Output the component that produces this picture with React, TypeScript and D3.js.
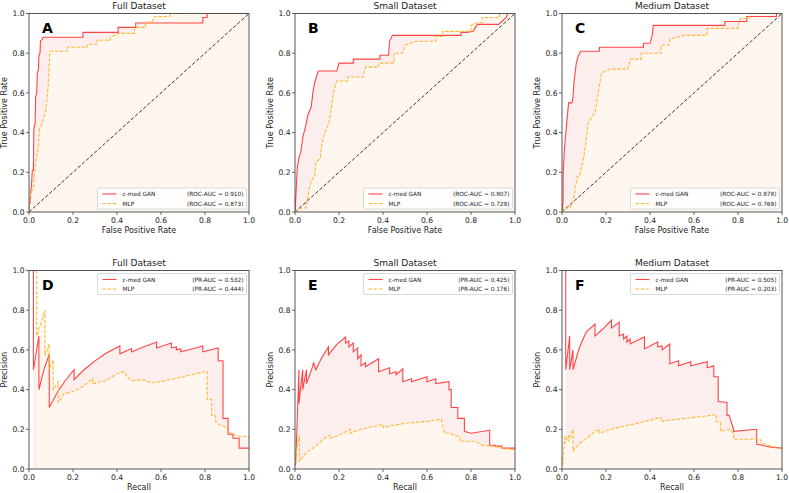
import React from "react";
import * as d3 from "d3";

type Pt = [number, number];

const titles = ["Full Dataset", "Small Dataset", "Medium Dataset"];
const rocLetters = ["A", "B", "C"];
const prLetters = ["D", "E", "F"];
const tickValues = [0, 0.2, 0.4, 0.6, 0.8, 1.0];
const seriesNames = ["c-med GAN", "MLP"];
const rocAucGan = ["0.910", "0.807", "0.878"];
const rocAucMlp = ["0.873", "0.729", "0.769"];
const prAucGan = ["0.532", "0.425", "0.505"];
const prAucMlp = ["0.444", "0.176", "0.203"];

// ROC curves (FPR, TPR)
const rocFullGan: Pt[] = [[0,0],[0,0.03],[0.005,0.05],[0.008,0.1],[0.012,0.15],[0.015,0.21],[0.02,0.21],[0.022,0.42],[0.028,0.45],[0.03,0.58],[0.035,0.6],[0.038,0.7],[0.043,0.72],[0.045,0.79],[0.05,0.8],[0.052,0.86],[0.06,0.87],[0.065,0.88],[0.245,0.88],[0.245,0.905],[0.405,0.905],[0.405,0.93],[0.485,0.93],[0.485,0.952],[0.79,0.952],[0.79,0.98],[0.81,0.98],[0.81,1],[1,1]];
const rocFullMlp: Pt[] = [[0,0],[0.003,0.05],[0.008,0.1],[0.015,0.11],[0.02,0.12],[0.025,0.2],[0.03,0.25],[0.04,0.3],[0.048,0.42],[0.06,0.45],[0.075,0.5],[0.085,0.6],[0.09,0.7],[0.095,0.81],[0.175,0.81],[0.175,0.83],[0.265,0.83],[0.265,0.845],[0.31,0.845],[0.31,0.865],[0.37,0.865],[0.37,0.88],[0.41,0.9],[0.48,0.9],[0.48,0.93],[0.53,0.93],[0.53,0.955],[0.56,0.96],[0.57,0.985],[0.64,0.985],[0.64,1],[1,1]];
const rocSmallGan: Pt[] = [[0,0],[0.005,0.1],[0.01,0.22],[0.017,0.27],[0.026,0.3],[0.036,0.38],[0.048,0.43],[0.059,0.49],[0.074,0.53],[0.081,0.6],[0.089,0.65],[0.097,0.68],[0.106,0.71],[0.19,0.71],[0.195,0.73],[0.2,0.75],[0.265,0.75],[0.265,0.77],[0.386,0.77],[0.386,0.79],[0.425,0.79],[0.43,0.86],[0.443,0.89],[0.755,0.89],[0.755,0.905],[0.78,0.905],[0.81,0.91],[0.82,0.93],[0.83,0.945],[0.926,0.945],[0.96,0.98],[0.967,1],[1,1]];
const rocSmallMlp: Pt[] = [[0,0],[0.03,0.02],[0.05,0.02],[0.055,0.05],[0.065,0.12],[0.075,0.16],[0.09,0.18],[0.095,0.25],[0.115,0.27],[0.12,0.33],[0.13,0.38],[0.14,0.41],[0.155,0.45],[0.165,0.52],[0.175,0.6],[0.19,0.66],[0.24,0.66],[0.24,0.68],[0.31,0.68],[0.32,0.73],[0.38,0.73],[0.38,0.75],[0.45,0.75],[0.45,0.8],[0.49,0.8],[0.5,0.84],[0.55,0.86],[0.64,0.86],[0.64,0.885],[0.67,0.885],[0.67,0.91],[0.8,0.91],[0.8,0.94],[0.83,0.955],[0.85,0.955],[0.85,0.98],[0.93,0.98],[0.93,1],[1,1]];
const rocMediumGan: Pt[] = [[0,0],[0.005,0.05],[0.005,0.18],[0.01,0.3],[0.015,0.37],[0.02,0.43],[0.025,0.49],[0.03,0.55],[0.045,0.55],[0.05,0.58],[0.055,0.66],[0.065,0.75],[0.075,0.79],[0.085,0.81],[0.17,0.81],[0.17,0.83],[0.37,0.83],[0.37,0.85],[0.4,0.85],[0.41,0.89],[0.415,0.94],[0.74,0.94],[0.74,0.96],[0.84,0.96],[0.84,0.985],[0.975,0.985],[0.975,1],[1,1]];
const rocMediumMlp: Pt[] = [[0,0],[0.01,0.02],[0.035,0.02],[0.05,0.05],[0.07,0.18],[0.08,0.18],[0.1,0.28],[0.12,0.45],[0.15,0.5],[0.165,0.6],[0.18,0.7],[0.22,0.72],[0.3,0.72],[0.31,0.77],[0.36,0.77],[0.36,0.8],[0.45,0.8],[0.45,0.84],[0.485,0.84],[0.49,0.87],[0.555,0.89],[0.66,0.89],[0.66,0.925],[0.8,0.925],[0.805,0.96],[0.81,0.975],[0.85,0.975],[0.855,1],[1,1]];

// PR curves (Recall, Precision)
const prFullGan: Pt[] = [[0.02,1],[0.02,0.5],[0.045,0.67],[0.045,0.4],[0.07,0.509],[0.092,0.577],[0.092,0.31],[0.13,0.388],[0.165,0.446],[0.205,0.5],[0.205,0.45],[0.25,0.5],[0.3,0.545],[0.35,0.583],[0.413,0.62],[0.413,0.58],[0.466,0.607],[0.466,0.59],[0.52,0.615],[0.58,0.64],[0.58,0.61],[0.647,0.635],[0.647,0.61],[0.67,0.615],[0.67,0.6],[0.69,0.605],[0.69,0.59],[0.74,0.605],[0.79,0.62],[0.79,0.59],[0.86,0.61],[0.86,0.545],[0.882,0.545],[0.882,0.255],[0.905,0.255],[0.905,0.175],[0.927,0.175],[0.927,0.155],[0.955,0.155],[0.955,0.105],[1,0.105]];
const prFullMlp: Pt[] = [[0.035,1],[0.035,0.67],[0.073,0.8],[0.073,0.57],[0.092,0.63],[0.092,0.5],[0.11,0.55],[0.11,0.4],[0.133,0.44],[0.133,0.335],[0.16,0.38],[0.2,0.39],[0.22,0.4],[0.25,0.42],[0.29,0.455],[0.29,0.43],[0.35,0.445],[0.4,0.48],[0.43,0.49],[0.45,0.46],[0.47,0.445],[0.52,0.45],[0.55,0.435],[0.6,0.44],[0.68,0.46],[0.72,0.47],[0.8,0.49],[0.81,0.49],[0.81,0.35],[0.83,0.35],[0.83,0.27],[0.845,0.27],[0.85,0.235],[0.87,0.22],[0.9,0.21],[0.905,0.185],[0.93,0.175],[0.95,0.165],[1,0.165],[1,0.155]];
const prSmallGan: Pt[] = [[0.003,0.02],[0.018,0.5],[0.018,0.33],[0.035,0.5],[0.035,0.4],[0.052,0.5],[0.052,0.43],[0.075,0.5],[0.085,0.535],[0.095,0.5],[0.12,0.558],[0.152,0.615],[0.152,0.575],[0.19,0.628],[0.23,0.665],[0.23,0.635],[0.245,0.645],[0.245,0.615],[0.265,0.635],[0.265,0.59],[0.285,0.61],[0.285,0.555],[0.3,0.575],[0.3,0.52],[0.32,0.535],[0.32,0.515],[0.38,0.555],[0.38,0.49],[0.43,0.51],[0.43,0.48],[0.46,0.49],[0.46,0.475],[0.49,0.505],[0.49,0.44],[0.53,0.455],[0.53,0.44],[0.6,0.465],[0.6,0.44],[0.64,0.455],[0.64,0.43],[0.7,0.44],[0.7,0.4],[0.71,0.4],[0.71,0.31],[0.74,0.31],[0.74,0.255],[0.77,0.255],[0.77,0.19],[0.8,0.18],[0.885,0.195],[0.885,0.12],[0.91,0.12],[0.91,0.115],[0.94,0.115],[0.94,0.105],[1,0.105]];
const prSmallMlp: Pt[] = [[0.002,0.03],[0.008,0.1],[0.02,0.17],[0.02,0.04],[0.05,0.08],[0.1,0.12],[0.14,0.16],[0.16,0.17],[0.16,0.155],[0.2,0.17],[0.25,0.2],[0.25,0.18],[0.3,0.2],[0.38,0.22],[0.4,0.225],[0.4,0.21],[0.45,0.22],[0.5,0.23],[0.6,0.24],[0.665,0.25],[0.68,0.18],[0.7,0.18],[0.75,0.16],[0.75,0.14],[0.82,0.14],[0.85,0.12],[0.9,0.115],[0.95,0.105],[1,0.095]];
const prMediumGan: Pt[] = [[0.017,1],[0.017,0.5],[0.035,0.67],[0.035,0.5],[0.05,0.6],[0.05,0.5],[0.08,0.615],[0.11,0.69],[0.15,0.73],[0.15,0.67],[0.19,0.71],[0.225,0.75],[0.225,0.71],[0.26,0.74],[0.26,0.67],[0.28,0.68],[0.28,0.655],[0.295,0.67],[0.295,0.64],[0.31,0.655],[0.31,0.63],[0.375,0.665],[0.375,0.605],[0.435,0.64],[0.435,0.615],[0.455,0.62],[0.455,0.6],[0.49,0.63],[0.49,0.53],[0.53,0.545],[0.53,0.52],[0.585,0.54],[0.585,0.52],[0.66,0.54],[0.66,0.51],[0.69,0.52],[0.69,0.465],[0.71,0.465],[0.71,0.34],[0.75,0.335],[0.75,0.27],[0.76,0.27],[0.78,0.2],[0.78,0.19],[0.885,0.2],[0.885,0.125],[0.91,0.12],[0.95,0.11],[1,0.105]];
const prMediumMlp: Pt[] = [[0.003,0.02],[0.013,0.17],[0.013,0.13],[0.03,0.17],[0.03,0.14],[0.05,0.2],[0.05,0.09],[0.08,0.13],[0.12,0.16],[0.15,0.19],[0.17,0.2],[0.17,0.18],[0.22,0.2],[0.26,0.21],[0.3,0.22],[0.38,0.24],[0.45,0.26],[0.45,0.24],[0.52,0.25],[0.6,0.26],[0.68,0.27],[0.7,0.275],[0.7,0.24],[0.72,0.235],[0.72,0.19],[0.76,0.2],[0.78,0.18],[0.78,0.15],[0.9,0.15],[0.91,0.13],[0.95,0.115],[1,0.1]];

const rocGan = [rocFullGan, rocSmallGan, rocMediumGan];
const rocMlp = [rocFullMlp, rocSmallMlp, rocMediumMlp];
const prGan = [prFullGan, prSmallGan, prMediumGan];
const prMlp = [prFullMlp, prSmallMlp, prMediumMlp];

const FONT = "DejaVu Sans, sans-serif";
const RED = "#ff4444";
const ORANGE = "#ffb833";
const PINK_FILL = "#fdeeee";
const CREAM_FILL = "#fff7ef";
const AXIS = "#444";
const TEXT = "#222";

const colLeft = [29, 295, 562];
const panelW = 220;
const rowTop = [13.5, 270.5];
const panelH = 198.5;

interface PanelProps {
  left: number;
  top: number;
  gan: Pt[];
  mlp: Pt[];
  kind: "roc" | "pr";
  letter: string;
  title: string;
  aucGan: string;
  aucMlp: string;
}

function Panel({ left, top, gan, mlp, kind, letter, title, aucGan, aucMlp }: PanelProps) {
  const x = d3.scaleLinear().domain([0, 1]).range([left, left + panelW]);
  const y = d3.scaleLinear().domain([0, 1]).range([top + panelH, top]);
  const line = d3.line<Pt>().x((d) => x(d[0])).y((d) => y(d[1]));
  const area = d3
    .area<Pt>()
    .x((d) => x(d[0]))
    .y0(y(0))
    .y1((d) => y(d[1]));
  const bottom = top + panelH;
  const right = left + panelW;
  const xLabel = kind === "roc" ? "False Positive Rate" : "Recall";
  const yLabel = kind === "roc" ? "True Positive Rate" : "Precision";
  const metric = kind === "roc" ? "ROC-AUC" : "PR-AUC";
  const legW = 149;
  const legH = 21;
  const legX = right - legW - 2.5;
  const legY = kind === "roc" ? bottom - legH - 3 : top + 3;
  const clipId = `clip-${letter}`;
  const lf = 5.8;
  return (
    <g>
      <defs>
        <clipPath id={clipId}>
          <rect x={left} y={top} width={panelW} height={panelH} />
        </clipPath>
      </defs>
      <g clipPath={`url(#${clipId})`}>
        <path d={area(gan) || ""} fill={PINK_FILL} />
        <path d={area(mlp) || ""} fill={CREAM_FILL} />
        {kind === "roc" && (
          <path
            d={line([[0, 0], [1, 1]] as Pt[]) || ""}
            stroke="#000"
            strokeWidth={0.8}
            strokeDasharray="3.5,2"
            fill="none"
          />
        )}
        <path d={line(gan) || ""} stroke={RED} strokeWidth={1.1} fill="none" />
        <path d={line(mlp) || ""} stroke={ORANGE} strokeWidth={1.1} strokeDasharray="3.5,1.6" fill="none" />
      </g>
      <rect x={left} y={top} width={panelW} height={panelH} fill="none" stroke={AXIS} strokeWidth={0.9} />
      {tickValues.map((t) => (
        <g key={`x${t}`}>
          <line x1={x(t)} x2={x(t)} y1={bottom} y2={bottom + 3} stroke={AXIS} strokeWidth={0.8} />
          <text x={x(t)} y={bottom + 10.5} fontSize={7.6} textAnchor="middle" fill={TEXT} fontFamily={FONT}>
            {t.toFixed(1)}
          </text>
        </g>
      ))}
      {tickValues.map((t) => (
        <g key={`y${t}`}>
          <line x1={left - 3} x2={left} y1={y(t)} y2={y(t)} stroke={AXIS} strokeWidth={0.8} />
          <text x={left - 4.5} y={y(t) + 2.7} fontSize={7.6} textAnchor="end" fill={TEXT} fontFamily={FONT}>
            {t.toFixed(1)}
          </text>
        </g>
      ))}
      <text x={(left + right) / 2} y={top - 4.5} fontSize={9} textAnchor="middle" fill={TEXT} fontFamily={FONT}>
        {title}
      </text>
      <text x={(left + right) / 2} y={bottom + 21} fontSize={8} textAnchor="middle" fill={TEXT} fontFamily={FONT}>
        {xLabel}
      </text>
      <text
        transform={`translate(${left - 22.5},${(top + bottom) / 2}) rotate(-90)`}
        fontSize={8}
        textAnchor="middle"
        fill={TEXT}
        fontFamily={FONT}
      >
        {yLabel}
      </text>
      <text x={left + 13} y={top + 19} fontSize={14} fontWeight="bold" fill="#000" fontFamily={FONT}>
        {letter}
      </text>
      <g>
        <rect x={legX} y={legY} width={legW} height={legH} rx={1.5} fill="#fff" fillOpacity={0.85} stroke="#ccc" strokeWidth={0.7} />
        <line x1={legX + 5} x2={legX + 19} y1={legY + 6} y2={legY + 6} stroke={RED} strokeWidth={1.1} />
        <line x1={legX + 5} x2={legX + 19} y1={legY + 15.5} y2={legY + 15.5} stroke={ORANGE} strokeWidth={1.1} strokeDasharray="3.5,1.6" />
        <text x={legX + 25} y={legY + 8} fontSize={lf} fill={TEXT} fontFamily={FONT}>{seriesNames[0]}</text>
        <text x={legX + 25} y={legY + 17.5} fontSize={lf} fill={TEXT} fontFamily={FONT}>{seriesNames[1]}</text>
        <text x={legX + legW - 3} y={legY + 8} fontSize={lf} textAnchor="end" fill={TEXT} fontFamily={FONT}>{`(${metric} = ${aucGan})`}</text>
        <text x={legX + legW - 3} y={legY + 17.5} fontSize={lf} textAnchor="end" fill={TEXT} fontFamily={FONT}>{`(${metric} = ${aucMlp})`}</text>
      </g>
    </g>
  );
}

export default function App() {
  return (
    <svg
      width={789}
      height={493}
      style={{ position: "absolute", left: 0, top: 0, background: "#fff" }}
    >
      <rect x={0} y={0} width={789} height={493} fill="#fff" />
      {titles.map((t, i) => (
        <Panel
          key={`roc${i}`}
          left={colLeft[i]}
          top={rowTop[0]}
          gan={rocGan[i]}
          mlp={rocMlp[i]}
          kind="roc"
          letter={rocLetters[i]}
          title={t}
          aucGan={rocAucGan[i]}
          aucMlp={rocAucMlp[i]}
        />
      ))}
      {titles.map((t, i) => (
        <Panel
          key={`pr${i}`}
          left={colLeft[i]}
          top={rowTop[1]}
          gan={prGan[i]}
          mlp={prMlp[i]}
          kind="pr"
          letter={prLetters[i]}
          title={t}
          aucGan={prAucGan[i]}
          aucMlp={prAucMlp[i]}
        />
      ))}
    </svg>
  );
}
